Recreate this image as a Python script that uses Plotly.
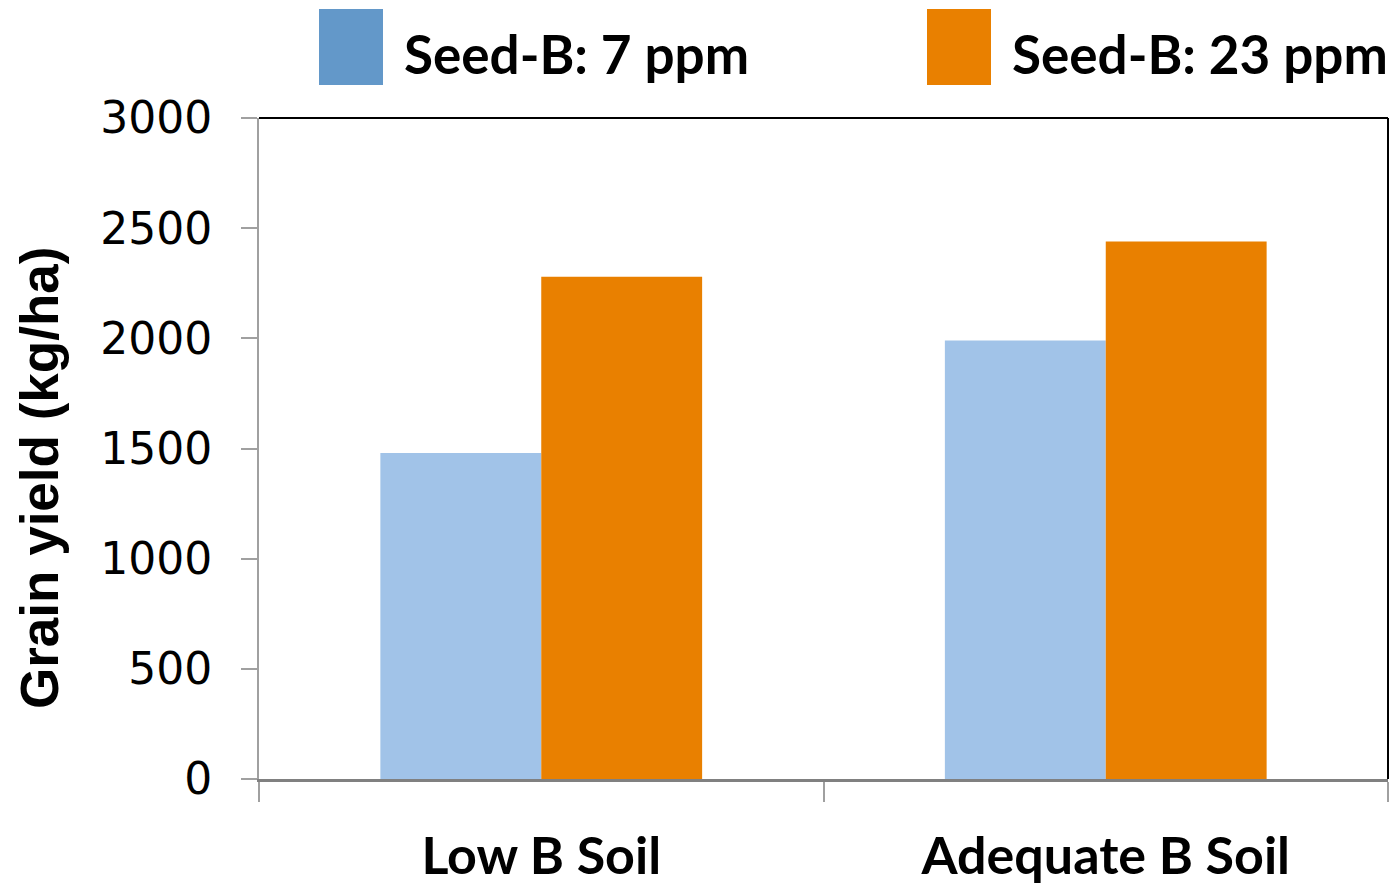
import plotly.graph_objects as go

# Grain yield by soil boron status and seed boron content
soils = ["Low B Soil", "Adequate B Soil"]
series_names = ["Seed-B: 7 ppm", "Seed-B: 23 ppm"]
yield_7ppm = [1480, 1990]
yield_23ppm = [2280, 2440]
y_ticks = [0, 500, 1000, 1500, 2000, 2500, 3000]

bar_colors = ["#A1C3E8", "#E98000"]
legend_colors = ["#6398C9", "#E98000"]

W, H = 1395, 887
L, R, T, B = 259, 7, 118, 108
pw, ph = W - L - R, H - T - B


def px(x):
    return (x - L) / pw


def py(y):
    return (H - B - y) / ph


fig = go.Figure()
for name, vals, col in zip(series_names, [yield_7ppm, yield_23ppm], bar_colors):
    fig.add_trace(go.Bar(x=soils, y=vals, name=name, marker=dict(color=col, line=dict(width=0)),
                         showlegend=False))

shapes = [
    # black frame on top and right
    dict(type="line", xref="paper", yref="paper", x0=0, x1=1, y0=1, y1=1,
         line=dict(color="#000000", width=2)),
    dict(type="line", xref="paper", yref="paper", x0=1, x1=1, y0=0, y1=1,
         line=dict(color="#000000", width=2)),
]
annotations = []
legend_boxes = [(319, 383), (927, 991)]
legend_text_x = [402, 1010]
for (x0, x1), tx, col, name in zip(legend_boxes, legend_text_x, legend_colors, series_names):
    shapes.append(dict(type="rect", xref="paper", yref="paper", x0=px(x0), x1=px(x1),
                       y0=py(85), y1=py(9), fillcolor=col, line=dict(width=0), layer="above"))
    annotations.append(dict(xref="paper", yref="paper", x=px(tx), y=py(54), xanchor="left",
                            yanchor="middle", showarrow=False, text="<b>%s</b>" % name,
                            font=dict(family="Lato", size=53, color="#000000")))

annotations.append(dict(xref="paper", yref="paper", x=px(39), y=py(478), xanchor="center",
                        yanchor="middle", showarrow=False, textangle=-90,
                        text="<b>Grain yield (kg/ha)</b>",
                        font=dict(family="Liberation Sans", size=53, color="#000000")))

fig.update_layout(
    width=W, height=H,
    margin=dict(l=L, r=R, t=T, b=B, pad=0),
    paper_bgcolor="white", plot_bgcolor="white",
    barmode="group", bargap=0.43, bargroupgap=0,
    shapes=shapes, annotations=annotations,
    xaxis=dict(
        type="category", tickson="boundaries", ticks="outside", ticklen=20, tickwidth=2,
        tickcolor="#A0A0A0", showline=True, linecolor="#808080", linewidth=3,
        showgrid=False, zeroline=False, ticklabelstandoff=30, automargin=False,
        tickfont=dict(family="Lato", size=52, color="#000000"),
        tickvals=soils, ticktext=["<b>%s</b>" % s for s in soils],
    ),
    yaxis=dict(
        range=[0, 3000], tickvals=y_ticks, ticks="outside", ticklen=16, tickwidth=2,
        tickcolor="#A0A0A0", showline=True, linecolor="#A0A0A0", linewidth=2,
        showgrid=False, zeroline=False, ticklabelstandoff=20, automargin=False,
        tickfont=dict(family="DejaVu Sans", size=44, color="#000000"),
    ),
)

fig.write_html("out.html")
